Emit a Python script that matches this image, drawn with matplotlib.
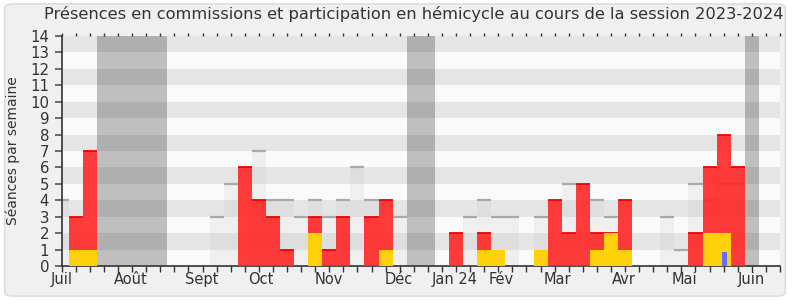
import matplotlib
matplotlib.use("Agg")
import matplotlib.pyplot as plt
from matplotlib.patches import FancyBboxPatch
import numpy as np

# ---------------- data (weekly, week index 0..50) ----------------
weeks = np.arange(51)
total_seances = [4, 0, 0, 0, 0, 0, 0, 0, 0, 0, 0, 3, 5, 0, 7, 4, 4, 3, 4, 3,
                 4, 6, 4, 0, 3, 0, 0, 0, 0, 3, 4, 3, 3, 0, 3, 0, 5, 0, 4, 3,
                 0, 0, 0, 3, 1, 5, 4, 5, 5, 0, 0]
commission = [0, 3, 7, 0, 0, 0, 0, 0, 0, 0, 0, 0, 0, 6, 4, 3, 1, 0, 3, 1,
              3, 0, 3, 4, 0, 0, 0, 0, 2, 0, 2, 0, 0, 0, 0, 4, 2, 5, 2, 2,
              4, 0, 0, 0, 0, 2, 6, 8, 6, 0, 0]
hemicycle = [0, 1, 1, 0, 0, 0, 0, 0, 0, 0, 0, 0, 0, 0, 0, 0, 0, 0, 2, 0,
             0, 0, 0, 1, 0, 0, 0, 0, 0, 0, 1, 1, 0, 0, 1, 0, 0, 0, 1, 2,
             1, 0, 0, 0, 0, 0, 2, 2, 0, 0, 0]
questions = [0] * 47 + [0.87] + [0] * 3
vacances = [3, 4, 5, 6, 7, 25, 26, 49]
month_labels = ["Juil", "Août", "Sept", "Oct", "Nov", "Déc", "Jan 24", "Fév",
                "Mar", "Avr", "Mai", "Juin"]
month_pos = [0, 4.91, 9.94, 14.12, 18.95, 23.95, 27.92, 31.22, 35.18, 39.93,
             44.23, 48.96]
title = "Présences en commissions et participation en hémicycle au cours de la session 2023-2024"
ylabel = "Séances par semaine"
ymax = 14
nweeks = 51

# ---------------- figure ----------------
plt.rcParams['font.family'] = ['DejaVu Sans']
fig = plt.figure(figsize=(7.9, 3.0), dpi=100, facecolor='white')
bg = FancyBboxPatch((0.006, 0.013), 0.988, 0.974,
                    boxstyle="round,pad=0,rounding_size=0.012",
                    transform=fig.transFigure, facecolor='#f0f0f0',
                    edgecolor='#dedede', linewidth=1.2, zorder=-10)
fig.patches.append(bg)

ax = fig.add_axes([0.0781, 0.1133, 0.9092, 0.7667])
ax.set_facecolor('#fafafa')
ax.set_xlim(0, nweeks)
ax.set_ylim(0, ymax)

# horizontal stripes
for k in range(1, ymax, 2):
    ax.axhspan(k, k + 1, color='#e5e5e5', lw=0, zorder=0)

# vacations
for w in vacances:
    ax.axvspan(w - 0.5, w + 0.5, color='black', alpha=0.235, lw=0, zorder=1)

# total sessions (light grey columns with top line)
tot = np.array(total_seances, dtype=float)
ax.bar(weeks, tot, width=1.0, color='#c2c2c2', alpha=0.18, lw=0, zorder=2)
for w, v in zip(weeks, tot):
    if v > 0:
        ax.hlines(v, w - 0.5, w + 0.5, color='#a9a9a9', lw=1.6, zorder=2.5)

# commission presence (red)
com = np.array(commission, dtype=float)
ax.bar(weeks, com, width=1.0, color='#ff2626', alpha=0.9, lw=0, zorder=3)
for w, v in zip(weeks, com):
    if v > 0:
        ax.hlines(v, w - 0.5, w + 0.5, color='#f00000', lw=1.3, zorder=3.5)

# hemicycle participation (yellow)
hem = np.array(hemicycle, dtype=float)
ax.bar(weeks, hem, width=1.0, color='#ffd10a', lw=0, zorder=4)

# questions (blue narrow)
q = np.array(questions, dtype=float)
ax.bar(weeks + 0.05, q, width=0.36, color='#6b6bff', lw=0, zorder=5)

# axes styling
for s in ['top', 'right']:
    ax.spines[s].set_visible(False)
for s in ['left', 'bottom']:
    ax.spines[s].set_color('#333333')
    ax.spines[s].set_linewidth(1.2)

ax.set_yticks(range(0, ymax + 1))
ax.tick_params(axis='y', length=5, width=1.2, color='#555555',
               labelsize=10.8, labelcolor='#333333', pad=4)
ax.set_xticks(range(0, nweeks + 1))
ax.set_xticklabels([])
ax.tick_params(axis='x', length=4, width=1.0, color='#333333')

# month labels
for lab, pos in zip(month_labels, month_pos):
    ax.text(pos, -0.35, lab, ha='center', va='top', fontsize=10.5,
            color='#333333', transform=ax.transData, clip_on=False)

# top small ticks
sec = ax.secondary_xaxis('top')
sec.set_xticks(range(0, nweeks + 1))
sec.set_xticklabels([])
sec.tick_params(length=2, width=1.0, color='#333333')
sec.spines['top'].set_visible(False)

ax.set_ylabel(ylabel, fontsize=10, color='#333333', labelpad=7)
fig.text(0.524, 0.953, title, ha='center', va='center', fontsize=11.7,
         color='#333333')

fig.savefig('out.png', dpi=100, facecolor=fig.get_facecolor())
